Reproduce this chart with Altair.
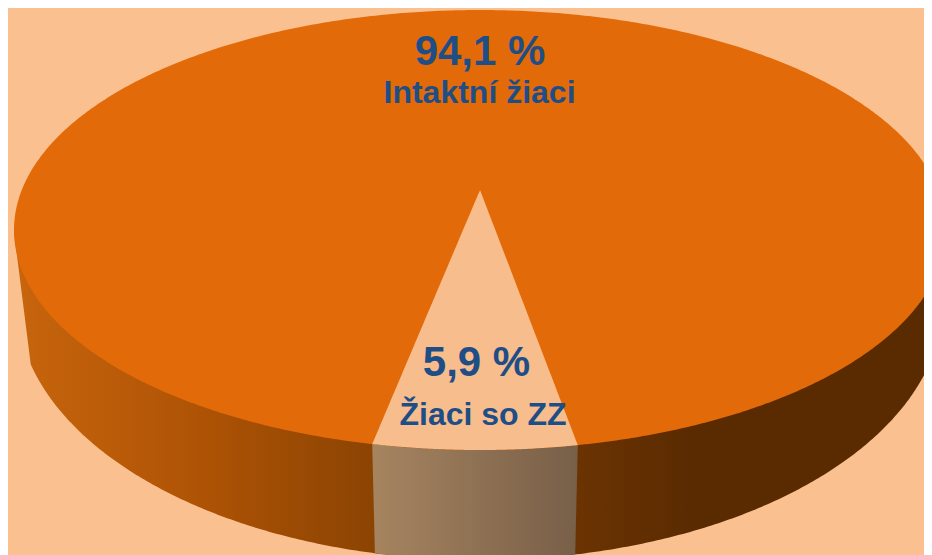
import numpy as np
import pandas as pd
import altair as alt

categories = ["Intaktní žiaci", "Žiaci so ZZ"]
shares = [94.1, 5.9]
share_labels = ["94,1 %", "5,9 %"]

BG = "#FBC08F"
WEDGE = "#F7BD8C"
ORANGE = "#E26A08"
BLUE = "#1F4E87"
MARGIN = 8
W, H = 932 - MARGIN, 555

# Perspective geometry of the disc, in picture pixels
CX, CY, RX, RY = 480.0, 230.0, 466.0, 220.0          # top face
LCX, LCY, LRX, LRY = 480.0, 302.0, 463.0, 258.0      # lower rim
RIM_LEFT = 30.0                                      # rim turns into a straight edge here
APEX_Y = 190.0                                       # projected centre of the disc
PERSPECTIVE = 1.2                                    # angular stretch at the near side
TILT = -0.63                                         # rotation of the small slice, degrees

half = np.radians(shares[1] * 1.8 * PERSPECTIVE)
mid = np.radians(TILT)
a0, a1 = mid - half, mid + half


def top_y(x, sign=1):
    return CY + sign * RY * np.sqrt(np.clip(1 - ((x - CX) / RX) ** 2, 0, 1))


def low_y(x):
    return LCY + LRY * np.sqrt(np.clip(1 - ((x - LCX) / LRX) ** 2, 0, 1))


# top face
th = np.linspace(-np.pi / 2, np.pi / 2, 361)
xs = CX + RX * np.sin(th)
top_df = pd.DataFrame({"x": xs, "y": top_y(xs, -1), "y2": top_y(xs, 1)})

# outer wall
th = np.linspace(-np.pi / 2, np.pi / 2, 361)
xs = LCX + LRX * np.sin(th)
xs = xs[xs >= RIM_LEFT]
wall_df = pd.DataFrame({"x": xs, "y": low_y(xs), "y2": CY})
wall_df = pd.concat([
    pd.DataFrame({"x": [CX - RX], "y": [CY + 2], "y2": [CY]}),
    wall_df,
    pd.DataFrame({"x": [CX + RX], "y": [CY + 2], "y2": [CY]}),
], ignore_index=True)

# wall under the small slice
tx0, tx1 = CX + RX * np.sin(a0), CX + RX * np.sin(a1)
lx0, lx1 = LCX + LRX * np.sin(a0) + 2, LCX + LRX * np.sin(a1) - 2
inner = np.linspace(lx0, lx1, 81)
side_df = pd.DataFrame({"x": inner, "y": low_y(inner), "y2": top_y(inner)})
side_df = pd.concat([
    pd.DataFrame({"x": [tx0], "y": [top_y(tx0)], "y2": [top_y(tx0)]}),
    side_df,
    pd.DataFrame({"x": [tx1], "y": [top_y(tx1)], "y2": [top_y(tx1)]}),
], ignore_index=True)

# small slice on the top face
xw = np.linspace(tx0, tx1, 121)
edge = np.where(
    xw <= CX,
    APEX_Y + (top_y(tx0) - APEX_Y) * (CX - xw) / (CX - tx0),
    APEX_Y + (top_y(tx1) - APEX_Y) * (xw - CX) / (tx1 - CX),
)
wedge_df = pd.DataFrame({"x": xw, "y": edge, "y2": top_y(xw)})

x_scale = alt.Scale(domain=[MARGIN, W], nice=False, zero=False)
y_scale = alt.Scale(domain=[H, MARGIN], nice=False, zero=False)


def area(df, fill):
    return alt.Chart(df).mark_area(
        fill=fill, clip=True, orient="vertical", stroke=None
    ).encode(
        x=alt.X("x:Q", scale=x_scale, axis=None),
        y=alt.Y("y:Q", scale=y_scale, axis=None),
        y2="y2:Q",
    )


def off(px, lo, hi):
    return (px - lo) / (hi - lo)


wall_lo, wall_hi = CX - RX, CX + RX
wall_fill = alt.Gradient(
    gradient="linear", x1=0, y1=0, x2=1, y2=0,
    stops=[
        alt.GradientStop(color="#C8650D", offset=0),
        alt.GradientStop(color="#AE5305", offset=off(200, wall_lo, wall_hi)),
        alt.GradientStop(color="#8C4403", offset=off(372, wall_lo, wall_hi)),
        alt.GradientStop(color="#6B3302", offset=off(580, wall_lo, wall_hi)),
        alt.GradientStop(color="#5A2B01", offset=off(690, wall_lo, wall_hi)),
        alt.GradientStop(color="#5A2B01", offset=1),
    ],
)
side_fill = alt.Gradient(
    gradient="linear", x1=0, y1=0, x2=1, y2=0,
    stops=[
        alt.GradientStop(color="#A6845F", offset=0),
        alt.GradientStop(color="#785F48", offset=1),
    ],
)

label_df = pd.DataFrame({
    "x": [480, 479.5, 476.5, 483],
    "y": [65, 103, 376, 425],
    "t": [share_labels[0], categories[0], share_labels[1], categories[1]],
    "s": [42, 32, 42, 32],
})
labels = alt.Chart(label_df).mark_text(
    font="Liberation Sans", fontWeight="bold", color=BLUE,
    align="center", baseline="alphabetic",
).encode(
    x=alt.X("x:Q", scale=x_scale, axis=None),
    y=alt.Y("y:Q", scale=y_scale, axis=None),
    text="t:N",
    size=alt.Size("s:Q", scale=None, legend=None),
)

chart = alt.layer(
    area(wall_df, wall_fill),
    area(side_df, side_fill),
    area(top_df, ORANGE),
    area(wedge_df, WEDGE),
    labels,
).properties(
    width=W - MARGIN, height=H - MARGIN, background=BG,
    padding=0, autosize=alt.AutoSizeParams(type="none"),
).configure_view(stroke=None)

chart.save("out.html", embed_options={"renderer": "svg", "actions": False})
